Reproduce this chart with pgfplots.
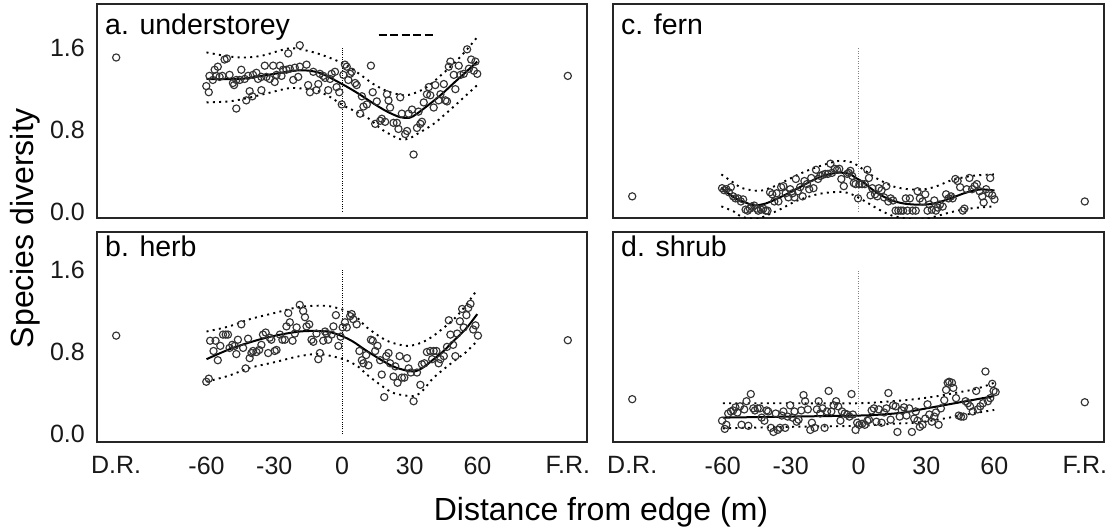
\documentclass[border=0pt]{standalone}
\usepackage{fontspec}
\setmainfont{Liberation Sans}
\usepackage{pgfplots}
\pgfplotsset{compat=1.18}
\begin{document}
\begin{tikzpicture}
\useasboundingbox (0pt,0pt) rectangle (1115pt,-529pt);
\pgfplotsset{
 panel/.style={
  scale only axis, anchor=north west, width=490pt,
  xmin=-108.5, xmax=108.5,
  axis line style={line width=1.3pt, black!85},
  major tick length=0pt, tick style={draw=none},
  xtick={-100,-60,-30,0,30,60,100},
  xticklabels={D.R.,-60,-30,0,30,60,F.R.},
  ytick={0,0.8,1.6},
  yticklabels={0.0,0.8,1.6},
  tick label style={font=\fontsize{25}{25}\selectfont, inner sep=0pt, text=black!90},
  xticklabel style={yshift=-14.5pt},
  yticklabel style={xshift=-12pt},
 },
 toprow/.style={height=214pt, ymin=-0.062, ymax=2.034, xtick=\empty},
 botrow/.style={height=210pt, ymin=-0.078, ymax=1.971},
 rightcol/.style={ytick=\empty},
 pts/.style={only marks, mark=o, mark size=3.6pt, mark options={line width=1.15pt, draw=black!80}},
 fit/.style={no marks, black, line width=2pt, smooth},
 ci/.style={no marks, black, line width=1.9pt, smooth, dash pattern=on 2pt off 4.3pt},
 vlineA/.style={no marks, black, line width=0.7pt, dash pattern=on 1pt off 1.3pt},
 vlineB/.style={no marks, black!50, line width=1.1pt, dash pattern=on 1pt off 1.5pt},
}
% ---------------- a. understorey ----------------
\begin{axis}[panel, toprow, at={(97pt,-4pt)}]
\addplot[vlineA] coordinates {(0,0) (0,1.6)};
\addplot[no marks, black, line width=2.7pt, dash pattern=on 8pt off 3.5pt] coordinates {(16.2,1.73) (41.3,1.73)};
\addplot[ci] coordinates {(-60,1.56) (-50,1.52) (-42.4,1.51) (-35,1.53) (-23.1,1.60) (-14.2,1.57) (-7,1.52) (0.6,1.45) (7,1.36) (13.9,1.25) (20,1.18) (27.3,1.14) (32,1.16) (37.6,1.22) (43,1.32) (49.5,1.45) (55,1.58) (59.9,1.71)};
\addplot[ci] coordinates {(-60,1.07) (-50,1.08) (-42.4,1.11) (-33,1.16) (-23.1,1.21) (-15,1.20) (-11.3,1.19) (-5,1.12) (0.6,1.04) (11,0.925) (18,0.80) (25.8,0.71) (30,0.72) (34,0.77) (40.6,0.86) (48,1.00) (54,1.12) (59.9,1.24)};
\addplot[fit] coordinates {(-60,1.30) (-45,1.30) (-30,1.35) (-18.7,1.385) (-10,1.36) (0,1.25) (7,1.16) (13.9,1.06) (20,0.98) (25.8,0.925) (30,0.92) (33.2,0.96) (38,1.04) (43.6,1.14) (50,1.27) (55,1.37) (59.9,1.47)};
\addplot[pts] table {
x y
-100 1.51
100 1.33
-60.1 1.23
-59.0 1.17
-58.7 1.33
-57.2 1.29
-56.4 1.39
-55.7 1.33
-55.0 1.42
-54.2 1.32
-53.0 1.33
-52.0 1.49
-51.0 1.50
-49.8 1.34
-48.3 1.26
-47.8 1.24
-46.8 1.01
-46.8 1.29
-45.3 1.29
-44.6 1.39
-43.1 1.30
-42.4 1.09
-41.6 1.33
-40.9 1.18
-39.7 1.13
-39.4 1.34
-37.9 1.36
-37.2 1.30
-35.7 1.19
-35.7 1.32
-34.2 1.43
-33.5 1.32
-32.0 1.30
-30.5 1.43
-29.8 1.27
-29.0 1.34
-27.5 1.43
-26.8 1.33
-26.1 1.39
-24.6 1.39
-23.8 1.55
-23.1 1.40
-21.6 1.29
-20.9 1.41
-19.4 1.32
-18.7 1.63
-18.7 1.42
-15.7 1.44
-15.0 1.24
-14.2 1.17
-12.7 1.37
-11.3 1.19
-10.5 1.25
-9.8 1.35
-8.3 1.33
-7.5 1.31
-6.1 1.19
-5.3 1.30
-4.6 1.35
-3.1 1.37
-2.4 1.22
-1.2 1.17
-0.1 1.05
0.6 1.34
1.3 1.44
2.1 1.42
2.8 1.29
3.6 1.35
4.3 1.37
5.8 1.26
6.5 1.24
8.0 0.96
8.8 1.13
9.5 1.03
11.0 1.05
12.8 1.43
13.6 1.17
14.7 0.86
15.4 1.08
16.9 0.89
17.6 0.91
19.1 0.88
19.9 1.15
20.6 1.09
21.3 1.02
22.8 0.87
24.3 0.87
25.0 0.81
25.8 1.12
26.5 0.96
28.0 0.76
28.8 0.79
29.5 0.96
31.0 1.00
31.7 0.56
33.2 0.82
33.9 0.98
34.7 0.86
35.4 0.88
36.2 1.07
37.6 1.15
38.4 1.22
39.1 1.14
40.6 1.02
41.3 1.24
42.8 1.09
43.6 1.15
45.1 1.25
45.8 1.09
46.5 1.08
47.3 1.42
48.0 1.47
49.5 1.34
50.2 1.20
51.7 1.43
52.5 1.34
53.9 1.35
55.4 1.59
56.2 1.40
57.2 1.49
58.4 1.38
59.1 1.47
59.9 1.35
};
\end{axis}
% ---------------- b. herb ----------------
\begin{axis}[panel, botrow, at={(97pt,-232pt)}]
\addplot[vlineA] coordinates {(0,0) (0,1.6)};
\addplot[ci] coordinates {(-60,1.00) (-50,1.05) (-40.9,1.12) (-30,1.18) (-18.7,1.24) (-6.8,1.25) (2,1.20) (7,1.13) (11,1.04) (19.9,0.91) (28.8,0.86) (35,0.89) (40.6,0.96) (49.5,1.12) (55,1.26) (59.9,1.41)};
\addplot[ci] coordinates {(-60,0.51) (-50,0.57) (-40.9,0.645) (-30,0.70) (-18.7,0.76) (-9.8,0.78) (0.6,0.73) (7,0.66) (11,0.58) (17,0.48) (22.8,0.40) (31.7,0.37) (36,0.43) (40.6,0.55) (49.5,0.71) (55,0.80) (59.9,0.91)};
\addplot[fit] coordinates {(-60,0.73) (-48.3,0.84) (-33.5,0.94) (-18.7,1.00) (-6.8,1.00) (0,0.955) (5,0.90) (11,0.81) (19.9,0.69) (25,0.64) (31.7,0.61) (36,0.65) (40.6,0.73) (45,0.81) (49.5,0.91) (55,1.03) (59.9,1.17)};
\addplot[pts] table {
x y
-100 0.96
100 0.915
-60.1 0.51
-59.0 0.54
-58.4 0.91
-56.9 0.81
-56.0 0.91
-55.0 0.72
-53.9 0.86
-52.7 0.97
-51.5 0.97
-50.5 0.97
-49.8 0.84
-48.6 0.87
-47.5 0.86
-46.8 0.78
-46.1 0.92
-44.6 1.07
-43.8 0.84
-42.7 0.64
-41.6 0.93
-40.9 0.74
-40.1 0.79
-39.4 0.81
-37.9 0.80
-36.7 0.82
-35.7 0.87
-35.0 0.97
-33.8 0.99
-32.7 0.79
-32.0 0.94
-31.3 0.92
-29.8 0.81
-29.0 0.82
-27.5 0.97
-26.4 0.92
-25.3 0.92
-24.6 1.05
-23.8 1.18
-23.1 1.09
-21.9 0.91
-20.9 0.98
-20.1 1.04
-18.7 1.26
-17.2 1.20
-16.4 1.14
-15.7 1.05
-14.5 1.07
-13.5 0.92
-12.7 0.90
-11.3 0.98
-10.5 0.73
-9.8 0.79
-8.3 0.91
-7.5 1.00
-6.8 0.98
-6.1 0.92
-4.6 0.97
-3.8 1.05
-2.7 1.16
-1.6 0.86
-0.6 0.95
0.3 1.04
1.3 1.09
2.1 1.04
3.6 1.15
4.3 1.17
5.0 1.12
6.5 1.07
7.7 0.81
8.8 0.72
9.5 0.69
10.7 0.77
11.7 0.67
12.8 0.92
13.6 0.91
14.7 0.81
15.7 0.86
16.9 0.72
17.6 0.58
18.7 0.36
19.6 0.76
20.6 0.79
21.3 0.69
22.8 0.56
23.6 0.66
24.6 0.50
25.5 0.76
26.5 0.55
27.6 0.55
28.8 0.74
29.5 0.64
30.5 0.60
31.7 0.32
33.2 0.60
34.7 0.48
35.4 0.68
36.5 0.69
37.6 0.80
39.1 0.81
39.9 0.73
40.6 0.81
41.8 0.81
42.8 0.69
43.6 0.73
45.1 0.76
46.5 0.85
47.3 1.11
48.0 0.97
49.2 0.87
50.2 0.76
51.0 0.98
52.2 1.10
53.2 1.22
53.9 1.04
55.1 1.16
55.9 1.23
56.9 1.27
58.1 1.02
59.1 1.06
60.2 0.96
};
\end{axis}
% ---------------- c. fern ----------------
\begin{axis}[panel, toprow, rightcol, at={(613pt,-4pt)}, width=491pt]
\addplot[vlineB] coordinates {(0,0) (0,1.6)};
\addplot[ci] coordinates {(-60.6,0.365) (-55,0.28) (-51.7,0.233) (-46,0.205) (-42.8,0.207) (-37,0.25) (-31,0.316) (-25,0.38) (-19.1,0.431) (-13,0.475) (-8.7,0.497) (-4,0.49) (-1.3,0.464) (3,0.40) (7.55,0.332) (12,0.28) (16.4,0.24) (22,0.22) (28.3,0.217) (34,0.245) (40.1,0.30) (45,0.33) (50,0.35) (55,0.36) (60.1,0.365)};
\addplot[ci] coordinates {(-60.6,0.052) (-55,0.0) (-51.7,-0.05) (-45,-0.07) (-39.9,-0.03) (-34,0.03) (-28,0.10) (-20,0.16) (-14.7,0.184) (-7.3,0.194) (-3,0.17) (1.6,0.118) (6,0.06) (10.5,0.003) (15,-0.04) (19.4,-0.06) (25,-0.08) (30,-0.07) (34.2,-0.046) (40,-0.01) (46,0.02) (53,0.04) (60.1,0.052)};
\addplot[fit] coordinates {(-60.6,0.23) (-54.7,0.135) (-50,0.09) (-45.8,0.062) (-41,0.08) (-36.9,0.118) (-31,0.18) (-25.1,0.25) (-20,0.31) (-14.7,0.358) (-8.7,0.382) (-4,0.37) (-1.3,0.332) (2,0.29) (6.1,0.217) (10,0.16) (14.96,0.108) (20,0.08) (25.3,0.069) (30,0.07) (34.2,0.085) (38,0.11) (43.1,0.151) (48,0.19) (53.5,0.217) (57,0.215) (60.1,0.207)};
\addplot[pts] table {
x y
-100 0.15
100 0.10
-60.3 0.23
-59.4 0.21
-58.4 0.22
-57.3 0.19
-56.4 0.24
-55.4 0.15
-54.4 0.13
-53.2 0.13
-52.0 0.10
-51.0 0.12
-49.9 0.02
-49.0 0.01
-48.0 0.03
-47.3 0.05
-46.1 0.06
-45.0 0.03
-44.3 0.01
-43.1 0.02
-42.1 0.03
-41.0 0.01
-40.2 0.01
-39.1 0.19
-38.1 0.17
-37.2 0.10
-36.2 0.18
-35.4 0.10
-34.2 0.24
-33.2 0.25
-32.2 0.18
-31.0 0.14
-30.2 0.22
-29.2 0.18
-28.3 0.14
-27.7 0.32
-26.8 0.20
-25.8 0.24
-24.7 0.15
-23.9 0.30
-22.8 0.27
-21.8 0.22
-20.9 0.33
-19.9 0.23
-18.8 0.41
-17.9 0.32
-16.9 0.35
-15.9 0.36
-14.7 0.37
-13.5 0.37
-12.4 0.47
-11.7 0.38
-10.5 0.42
-9.5 0.41
-8.5 0.42
-7.6 0.32
-6.5 0.25
-5.0 0.37
-4.3 0.38
-3.6 0.40
-2.8 0.35
-2.1 0.28
-1.3 0.27
-0.2 0.13
0.4 0.27
1.6 0.27
2.8 0.27
3.9 0.41
4.6 0.33
5.3 0.16
6.1 0.23
7.3 0.17
8.3 0.15
9.0 0.23
10.2 0.21
11.3 0.14
12.3 0.25
13.2 0.10
14.2 0.13
15.3 0.11
16.4 0.01
17.6 0.01
18.7 0.01
19.7 0.01
20.9 0.13
21.6 0.01
22.7 0.13
23.9 0.01
25.3 0.01
26.1 0.20
27.1 0.13
28.3 0.10
29.5 0.17
30.5 0.01
31.3 0.07
32.4 0.02
33.5 0.11
34.2 0.01
35.0 0.04
36.0 0.07
37.2 0.05
38.7 0.17
39.8 0.13
40.9 0.15
41.6 0.13
42.8 0.32
43.8 0.30
44.9 0.24
46.1 0.01
46.8 0.03
47.8 0.22
49.0 0.33
50.2 0.22
51.3 0.25
52.3 0.27
53.5 0.20
54.7 0.15
55.3 0.09
56.4 0.22
57.6 0.18
58.2 0.33
59.1 0.16
60.1 0.12
};
\end{axis}
% ---------------- d. shrub ----------------
\begin{axis}[panel, botrow, rightcol, at={(613pt,-232pt)}, width=491pt]
\addplot[vlineB] coordinates {(0,0) (0,1.6)};
\addplot[ci] coordinates {(-60,0.30) (-30,0.30) (0,0.30) (15,0.32) (25,0.34) (35,0.37) (45,0.41) (52,0.44) (60,0.50)};
\addplot[ci] coordinates {(-60,0.055) (-30,0.07) (0,0.08) (15,0.10) (25,0.11) (35,0.14) (45,0.18) (60,0.235)};
\addplot[fit] coordinates {(-60,0.16) (-30,0.17) (0,0.18) (10,0.19) (20,0.21) (30,0.25) (40,0.29) (50,0.33) (60,0.37)};
\addplot[pts] table {
x y
-100 0.34
100 0.31
-60.3 0.13
-59.1 0.05
-58.4 0.09
-57.6 0.20
-56.4 0.22
-55.4 0.23
-54.4 0.26
-53.5 0.21
-52.4 0.27
-51.7 0.09
-50.5 0.24
-49.5 0.32
-48.7 0.08
-47.6 0.39
-46.5 0.25
-45.8 0.23
-44.6 0.25
-43.6 0.25
-42.8 0.16
-41.6 0.13
-40.6 0.23
-39.9 0.22
-38.7 0.06
-37.6 0.02
-36.6 0.20
-35.7 0.04
-34.7 0.06
-33.9 0.18
-33.2 0.22
-32.4 0.06
-31.3 0.17
-30.2 0.28
-29.2 0.16
-28.3 0.22
-27.3 0.12
-26.5 0.14
-25.3 0.23
-24.3 0.38
-23.6 0.32
-22.4 0.24
-21.3 0.04
-20.6 0.11
-19.4 0.06
-18.4 0.24
-17.6 0.32
-16.9 0.20
-15.9 0.25
-15.0 0.06
-13.9 0.22
-13.2 0.42
-12.0 0.22
-11.0 0.28
-9.9 0.32
-9.0 0.27
-8.0 0.13
-7.3 0.22
-6.1 0.20
-5.0 0.19
-4.0 0.17
-3.1 0.39
-2.5 0.19
-1.3 0.04
-0.6 0.11
0.4 0.09
1.6 0.10
2.8 0.09
3.9 0.13
4.6 0.14
5.8 0.23
6.8 0.25
7.9 0.12
9.0 0.24
10.2 0.11
11.3 0.21
12.3 0.25
13.2 0.40
14.2 0.14
15.3 0.28
16.4 0.27
17.2 0.02
18.2 0.17
19.1 0.23
20.1 0.26
21.2 0.18
22.4 0.25
23.6 0.02
24.6 0.15
25.3 0.22
26.1 0.13
27.1 0.07
28.3 0.09
29.5 0.15
30.5 0.29
31.3 0.19
32.4 0.12
33.5 0.17
34.2 0.21
35.4 0.09
36.4 0.25
37.9 0.33
38.7 0.43
39.4 0.50
40.1 0.51
41.3 0.50
41.9 0.45
43.1 0.35
44.3 0.18
45.3 0.17
46.4 0.17
47.3 0.32
48.3 0.30
49.3 0.27
50.5 0.22
52.0 0.42
52.7 0.24
53.8 0.27
55.0 0.30
56.1 0.61
57.2 0.32
58.2 0.35
59.1 0.49
59.7 0.42
60.6 0.41
};
\end{axis}
% ---------------- panel labels and axis titles ----------------
\node[anchor=base west, inner sep=0pt, font=\fontsize{28.5}{28.5}\selectfont] at (105pt,-35pt) {a. understorey};
\node[anchor=base west, inner sep=0pt, font=\fontsize{28.5}{28.5}\selectfont] at (621pt,-35pt) {c. fern};
\node[anchor=base west, inner sep=0pt, font=\fontsize{28.5}{28.5}\selectfont] at (105pt,-256pt) {b. herb};
\node[anchor=base west, inner sep=0pt, font=\fontsize{28.5}{28.5}\selectfont] at (621pt,-256pt) {d. shrub};
\node[anchor=base, inner sep=0pt, font=\fontsize{32}{32}\selectfont] at (601pt,-520pt) {Distance from edge (m)};
\node[anchor=base, rotate=90, inner sep=0pt, font=\fontsize{32}{32}\selectfont] at (33pt,-228pt) {Species diversity};
\end{tikzpicture}
\end{document}
